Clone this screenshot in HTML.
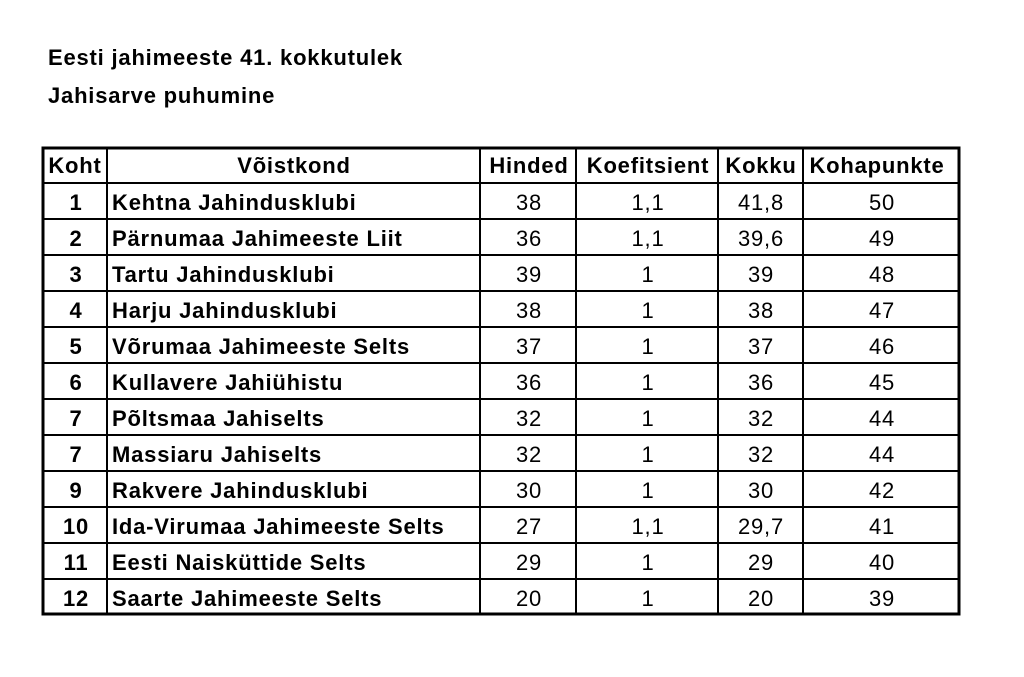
<!DOCTYPE html>
<html><head><meta charset="utf-8"><style>
html,body{margin:0;padding:0;background:#fff;}
svg{display:block;font-family:"Liberation Sans",sans-serif;}
text{letter-spacing:0.8px;}
</style></head><body>
<svg width="1024" height="677" xmlns="http://www.w3.org/2000/svg">
<text x="48" y="65" font-size="22" font-weight="bold">Eesti jahimeeste 41. kokkutulek</text>
<text x="48" y="103" font-size="22" font-weight="bold">Jahisarve puhumine</text>
<g stroke="#000" stroke-width="2">
<line x1="107" y1="147" x2="107" y2="615"/>
<line x1="480" y1="147" x2="480" y2="615"/>
<line x1="576" y1="147" x2="576" y2="615"/>
<line x1="718" y1="147" x2="718" y2="615"/>
<line x1="803" y1="147" x2="803" y2="615"/>
<line x1="42" y1="183" x2="960" y2="183"/>
<line x1="42" y1="219" x2="960" y2="219"/>
<line x1="42" y1="255" x2="960" y2="255"/>
<line x1="42" y1="291" x2="960" y2="291"/>
<line x1="42" y1="327" x2="960" y2="327"/>
<line x1="42" y1="363" x2="960" y2="363"/>
<line x1="42" y1="399" x2="960" y2="399"/>
<line x1="42" y1="435" x2="960" y2="435"/>
<line x1="42" y1="471" x2="960" y2="471"/>
<line x1="42" y1="507" x2="960" y2="507"/>
<line x1="42" y1="543" x2="960" y2="543"/>
<line x1="42" y1="579" x2="960" y2="579"/>
</g>
<rect x="43" y="148" width="916" height="466" fill="none" stroke="#000" stroke-width="3"/>
<g font-size="22" font-weight="bold">
<text x="75" y="173" text-anchor="middle">Koht</text>
<text x="294" y="173" text-anchor="middle">Võistkond</text>
<text x="529" y="173" text-anchor="middle">Hinded</text>
<text x="648" y="173" text-anchor="middle">Koefitsient</text>
<text x="761" y="173" text-anchor="middle">Kokku</text>
<text x="877" y="173" text-anchor="middle">Kohapunkte</text>
</g>
<g font-size="22" font-weight="bold" text-anchor="middle">
<text x="76" y="210">1</text><text x="76" y="246">2</text><text x="76" y="282">3</text><text x="76" y="318">4</text><text x="76" y="354">5</text><text x="76" y="390">6</text><text x="76" y="426">7</text><text x="76" y="462">7</text><text x="76" y="498">9</text><text x="76" y="534">10</text><text x="76" y="570">11</text><text x="76" y="606">12</text>
</g>
<g font-size="22" font-weight="bold">
<text x="112" y="210">Kehtna Jahindusklubi</text>
<text x="112" y="246">Pärnumaa Jahimeeste Liit</text>
<text x="112" y="282">Tartu Jahindusklubi</text>
<text x="112" y="318">Harju Jahindusklubi</text>
<text x="112" y="354">Võrumaa Jahimeeste Selts</text>
<text x="112" y="390">Kullavere Jahiühistu</text>
<text x="112" y="426">Põltsmaa Jahiselts</text>
<text x="112" y="462">Massiaru Jahiselts</text>
<text x="112" y="498">Rakvere Jahindusklubi</text>
<text x="112" y="534">Ida-Virumaa Jahimeeste Selts</text>
<text x="112" y="570">Eesti Naisküttide Selts</text>
<text x="112" y="606">Saarte Jahimeeste Selts</text>
</g>
<g font-size="22" text-anchor="middle">
<text x="529" y="210">38</text><text x="648" y="210">1,1</text><text x="761" y="210">41,8</text><text x="882" y="210">50</text>
<text x="529" y="246">36</text><text x="648" y="246">1,1</text><text x="761" y="246">39,6</text><text x="882" y="246">49</text>
<text x="529" y="282">39</text><text x="648" y="282">1</text><text x="761" y="282">39</text><text x="882" y="282">48</text>
<text x="529" y="318">38</text><text x="648" y="318">1</text><text x="761" y="318">38</text><text x="882" y="318">47</text>
<text x="529" y="354">37</text><text x="648" y="354">1</text><text x="761" y="354">37</text><text x="882" y="354">46</text>
<text x="529" y="390">36</text><text x="648" y="390">1</text><text x="761" y="390">36</text><text x="882" y="390">45</text>
<text x="529" y="426">32</text><text x="648" y="426">1</text><text x="761" y="426">32</text><text x="882" y="426">44</text>
<text x="529" y="462">32</text><text x="648" y="462">1</text><text x="761" y="462">32</text><text x="882" y="462">44</text>
<text x="529" y="498">30</text><text x="648" y="498">1</text><text x="761" y="498">30</text><text x="882" y="498">42</text>
<text x="529" y="534">27</text><text x="648" y="534">1,1</text><text x="761" y="534">29,7</text><text x="882" y="534">41</text>
<text x="529" y="570">29</text><text x="648" y="570">1</text><text x="761" y="570">29</text><text x="882" y="570">40</text>
<text x="529" y="606">20</text><text x="648" y="606">1</text><text x="761" y="606">20</text><text x="882" y="606">39</text>
</g>
</svg>
</body></html>
